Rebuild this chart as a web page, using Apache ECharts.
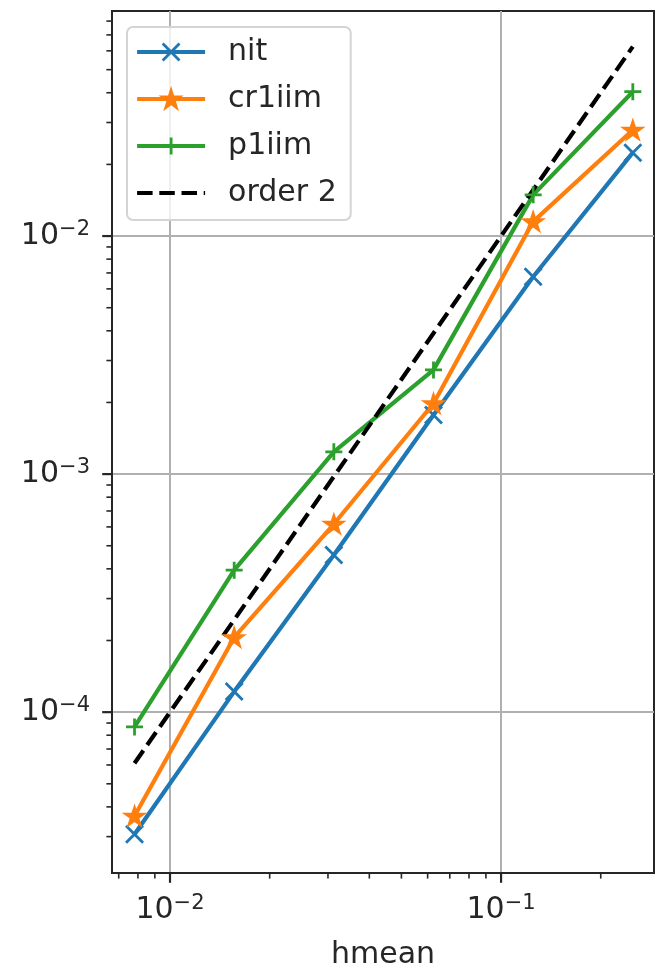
<!DOCTYPE html>
<html>
<head>
<meta charset="utf-8">
<script src="https://cdn.jsdelivr.net/npm/echarts@6/dist/echarts.min.js"></script>
<style>
html,body{margin:0;padding:0;background:#fff}
#c{width:657px;height:972px}
</style>
</head>
<body>
<div id="c"></div>
<script>
// ---- data ----
const hmean  = [0.0078125, 0.015625, 0.03125, 0.0625, 0.125, 0.25];
const nit    = [3.07e-5, 1.22e-4, 4.57e-4, 1.77e-3, 6.75e-3, 2.24e-2];
const cr1iim = [3.66e-5, 2.06e-4, 6.17e-4, 1.98e-3, 1.15e-2, 2.79e-2];
const p1iim  = [8.67e-5, 3.95e-4, 1.24e-3, 2.74e-3, 1.49e-2, 4.04e-2];
const order2 = [6.1035e-5, 2.4414e-4, 9.7656e-4, 3.9063e-3, 1.5625e-2, 6.25e-2];
const seriesNames = ['nit', 'cr1iim', 'p1iim', 'order 2'];

// tick values
const xMajorTicks = [1e-2, 1e-1];
const xMinorTicks = [7e-3, 8e-3, 9e-3, 2e-2, 3e-2, 4e-2, 5e-2, 6e-2, 7e-2, 8e-2, 9e-2, 2e-1];
const yMajorTicks = [1e-4, 1e-3, 1e-2];
const yMinorTicks = [3e-5, 4e-5, 5e-5, 6e-5, 7e-5, 8e-5, 9e-5,
                     2e-4, 3e-4, 4e-4, 5e-4, 6e-4, 7e-4, 8e-4, 9e-4,
                     2e-3, 3e-3, 4e-3, 5e-3, 6e-3, 7e-3, 8e-3, 9e-3,
                     2e-2, 3e-2, 4e-2, 5e-2, 6e-2, 7e-2, 8e-2];
const xRange = [0.00668, 0.2897];
const yRange = [2.11e-5, 0.0882];

// ---- styling ----
const FONT = 'DejaVu Sans';
const FS = 30;
const INK = '#262626';
const C_BLUE = '#1f77b4', C_ORANGE = '#ff7f0e', C_GREEN = '#2ca02c', C_BLACK = '#000000';
const SYM_X = 'path://M0,0L10,10M10,0L0,10';
const SYM_PLUS = 'path://M5,0L5,10M0,5L10,5';
const SYM_STAR = 'path://M50,0L61.23,34.55L97.55,34.55L68.15,55.9L79.4,90.45L50,69.1L20.6,90.45L31.85,55.9L2.45,34.55L38.77,34.55Z';

function pairs(ys) { return hmean.map((x, i) => [x, ys[i]]); }

function supFmt(v) {
  const e = Math.round(Math.log10(v));
  return '{b|10}{s|\u2212' + Math.abs(e) + '}';
}
const richSup = {
  b: { fontSize: FS, fontFamily: FONT, color: INK, lineHeight: 34 },
  s: { fontSize: 21, fontFamily: FONT, color: INK, verticalAlign: 'top', lineHeight: 23 }
};

function lineSeries(name, ys, color, symbol, size, extra) {
  return Object.assign({
    name: name,
    type: 'line',
    data: pairs(ys),
    symbol: symbol,
    symbolSize: size,
    symbolKeepAspect: true,
    showSymbol: symbol !== 'none',
    lineStyle: { color: color, width: 4.2 },
    itemStyle: { color: color, borderColor: color, borderWidth: 2.8 },
    emphasis: { disabled: true },
    animation: false
  }, extra || {});
}

// tick items: [x, y, kind] kind 0=y major,1=y minor,2=x major,3=x minor
const tickData = []
  .concat(yMajorTicks.map(v => [xRange[0], v, 0]))
  .concat(yMinorTicks.map(v => [xRange[0], v, 1]))
  .concat(xMajorTicks.map(v => [v, yRange[0], 2]))
  .concat(xMinorTicks.map(v => [v, yRange[0], 3]));

const legendData = seriesNames.map(n => n === 'order 2'
  ? { name: n, itemStyle: { opacity: 0, borderWidth: 0 } }
  : { name: n });

const chart = echarts.init(document.getElementById('c'), null, { renderer: 'canvas' });
chart.setOption({
  backgroundColor: '#ffffff',
  animation: false,
  textStyle: { fontFamily: FONT },
  grid: {
    left: 112, right: 3, top: 11, bottom: 99,
    outerBoundsMode: 'none',
    containLabel: false,
    show: true, borderColor: INK, borderWidth: 2, backgroundColor: 'transparent'
  },
  legend: {
    data: legendData,
    orient: 'vertical',
    left: 127, top: 27,
    itemWidth: 68, itemHeight: 21, itemGap: 17,
    padding: [10, 14, 12, 8],
    backgroundColor: 'rgba(255,255,255,0.8)',
    borderColor: '#d4d4d4', borderWidth: 2, borderRadius: 6,
    itemStyle: { borderWidth: 2.8 },
    lineStyle: { width: 4.2 },
    textStyle: { fontSize: FS, fontFamily: FONT, color: INK, lineHeight: 30, padding: [0, 0, 0, 18] },
    selectedMode: false
  },
  xAxis: {
    type: 'log', logBase: 10,
    min: xRange[0], max: xRange[1],
    splitNumber: 2,
    name: 'hmean', nameLocation: 'middle', nameGap: 67,
    nameTextStyle: { fontSize: FS, fontFamily: FONT, color: INK },
    axisLine: { show: true, onZero: false, lineStyle: { color: INK, width: 2 } },
    axisTick: { show: false },
    minorTick: { show: false },
    axisLabel: { formatter: supFmt, rich: richSup, margin: 20, showMinLabel: false, showMaxLabel: false },
    splitLine: { show: true, showMinLine: false, showMaxLine: false, lineStyle: { color: '#b0b0b0', width: 2 } }
  },
  yAxis: {
    type: 'log', logBase: 10,
    min: yRange[0], max: yRange[1],
    splitNumber: 4,
    axisLine: { show: true, onZero: false, lineStyle: { color: INK, width: 2 } },
    axisTick: { show: false },
    minorTick: { show: false },
    axisLabel: { formatter: supFmt, rich: richSup, margin: 22, showMinLabel: false, showMaxLabel: false },
    splitLine: { show: true, showMinLine: false, showMaxLine: false, lineStyle: { color: '#b0b0b0', width: 2 } }
  },
  series: [
    {
      name: 'ticks', type: 'custom', data: tickData, clip: false, silent: true, z: 5,
      animation: false,
      renderItem: function (params, api) {
        const p = api.coord([api.value(0), api.value(1)]);
        const k = api.value(2);
        const len = (k === 0 || k === 2) ? 9.8 : 5.6;
        let shape;
        if (k < 2) shape = { x1: p[0] - len, y1: p[1], x2: p[0], y2: p[1] };
        else shape = { x1: p[0], y1: p[1], x2: p[0], y2: p[1] + len };
        return { type: 'line', shape: shape, style: { stroke: INK, lineWidth: (k === 0 || k === 2) ? 2.2 : 1.6 } };
      }
    },
    lineSeries('nit', nit, C_BLUE, SYM_X, 17),
    lineSeries('cr1iim', cr1iim, C_ORANGE, SYM_STAR, 17),
    lineSeries('p1iim', p1iim, C_GREEN, SYM_PLUS, 17),
    lineSeries('order 2', order2, C_BLACK, 'none', 0, {
      lineStyle: { color: C_BLACK, width: 4.2, type: [15.5, 6.7] }
    })
  ]
});
</script>
</body>
</html>
